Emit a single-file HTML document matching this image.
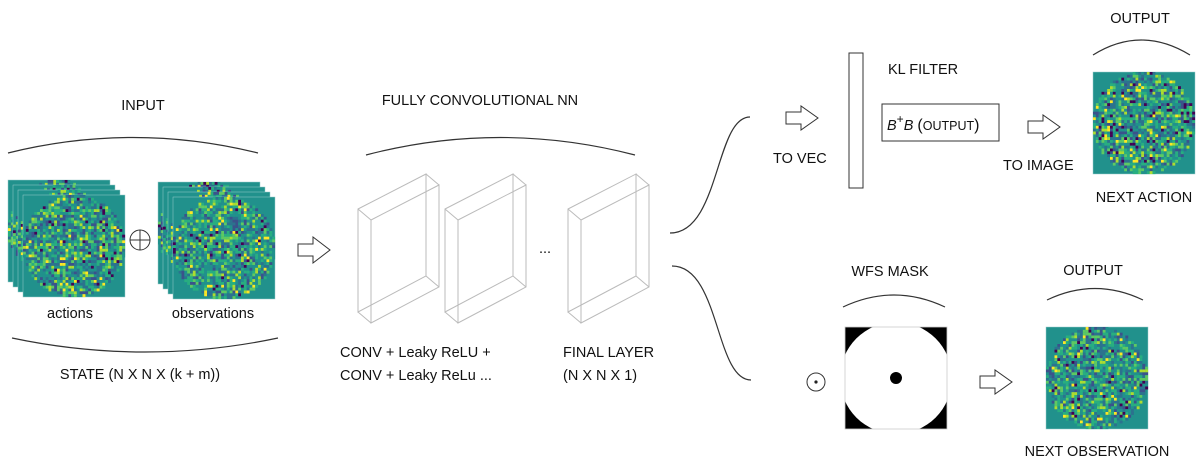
<!DOCTYPE html>
<html><head><meta charset="utf-8"><style>
html,body{margin:0;padding:0;background:#fff;}
svg{display:block;}
text{font-family:"Liberation Sans",sans-serif;font-size:14.5px;fill:#111;}
</style></head><body>
<svg id="s" width="1200" height="467" viewBox="0 0 1200 467" xmlns="http://www.w3.org/2000/svg">
<g fill="none" stroke="#333" stroke-width="1.2">
<path d="M8,153 Q133,122 258,153"/>
<path d="M12,338 Q145,366 278,338"/>
<path d="M366,155 Q500,120 635,155"/>
<path d="M1093,55 Q1141,25 1190,55"/>
<path d="M843,307 Q894,283 945,307"/>
<path d="M1047,300 Q1095,277 1143,300"/>
<path d="M670,233 C720,233 715,117 750,117"/>
<path d="M672,266 C720,266 715,380 751,380"/>
</g>
<g fill="#fff" stroke="#333" stroke-width="1">
<path d="M298,244 H313 V237 L330,250 L313,263 V256 H298 Z"/>
<path d="M786,112 H801 V106 L818,118 L801,130 V124 H786 Z"/>
<path d="M1028,121 H1043 V115 L1060,127 L1043,139 V133 H1028 Z"/>
<path d="M980,376 H995 V370 L1012,382 L995,394 V388 H980 Z"/>
<rect x="849" y="53" width="14" height="135"/>
<rect x="882" y="104" width="117" height="37"/>
<circle cx="140" cy="240" r="10"/>
<circle cx="816" cy="382" r="9"/>
</g>
<g stroke="#333"><line x1="130" y1="240" x2="150" y2="240"/><line x1="140" y1="230" x2="140" y2="250"/></g>
<circle cx="816" cy="382" r="1.6" fill="#222"/>
<g id="boxes" fill="none" stroke="#bbb" stroke-width="1"></g>
<g id="imgs"></g>
<text x="143" y="110" text-anchor="middle">INPUT</text>
<text x="70" y="318" text-anchor="middle" font-size="16">actions</text>
<text x="213" y="318" text-anchor="middle" font-size="16">observations</text>
<text x="140" y="379" text-anchor="middle">STATE (N X N X (k + m))</text>
<text x="480" y="105" text-anchor="middle">FULLY CONVOLUTIONAL NN</text>
<text x="545" y="253" text-anchor="middle" font-size="10">...</text>
<text x="340" y="357">CONV + Leaky ReLU +</text>
<text x="340" y="380">CONV + Leaky ReLu ...</text>
<text x="563" y="357">FINAL LAYER</text>
<text x="563" y="380">(N X N X 1)</text>
<text x="773" y="163">TO VEC</text>
<text x="888" y="74">KL FILTER</text>
<text x="887" y="130" font-family="Liberation Serif" font-style="italic" font-size="19">B<tspan dy="-7" font-size="12" font-style="normal">+</tspan><tspan dy="7">B</tspan> <tspan font-style="normal" font-family="Liberation Sans" font-size="16">(</tspan><tspan font-style="normal" font-family="Liberation Sans" font-size="12.5">OUTPUT</tspan><tspan font-style="normal" font-family="Liberation Sans" font-size="16">)</tspan></text>
<text x="1003" y="170">TO IMAGE</text>
<text x="1140" y="23" text-anchor="middle">OUTPUT</text>
<text x="1144" y="202" text-anchor="middle">NEXT ACTION</text>
<text x="890" y="276" text-anchor="middle">WFS MASK</text>
<text x="1093" y="275" text-anchor="middle">OUTPUT</text>
<text x="1097" y="456" text-anchor="middle">NEXT OBSERVATION</text>
<g id="mask"></g>
</svg>
<script>
var NS="http://www.w3.org/2000/svg";
var seed=12345;function rnd(){seed=(seed*1103515245+12345)%2147483648;return seed/2147483648;}
function el(p,t,a){var e=document.createElementNS(NS,t);for(var k in a)e.setAttribute(k,a[k]);p.appendChild(e);return e;}
var bx=document.getElementById('boxes');
[0,87,210].forEach(function(d){
 var A=[[358+d,209],[426+d,174],[426+d,276],[358+d,312]],o=[13,11];
 var B=A.map(function(p){return [p[0]+o[0],p[1]+o[1]];});
 el(bx,'polygon',{points:A.map(String).join(' ')});
 el(bx,'polygon',{points:B.map(String).join(' ')});
 for(var i=0;i<4;i++)el(bx,'line',{x1:A[i][0],y1:A[i][1],x2:B[i][0],y2:B[i][1]});
});
var pal=['#440154','#3b528b','#2c728e','#21918c','#28ae80','#5ec962','#addc30','#fde725'];
var w=[0.04,0.1,0.18,0.26,0.2,0.12,0.07,0.03];
function pick(){var r=rnd(),c=0;for(var i=0;i<8;i++){c+=w[i];if(r<c)return pal[i];}return pal[7];}
var ig=document.getElementById('imgs');
function img(x,y,s){
 el(ig,'rect',{x:x,y:y,width:s,height:s,fill:'#21918c',stroke:'#9cc',"stroke-width":0.5});
 var n=36,c=s/n;
 for(var i=0;i<n;i++)for(var j=0;j<n;j++){
  var dx=i+0.5-n/2,dy=j+0.5-n/2;
  if(dx*dx+dy*dy>(n/2)*(n/2))continue;
  el(ig,'rect',{x:(x+i*c).toFixed(2),y:(y+j*c).toFixed(2),width:(c+0.1).toFixed(2),height:(c+0.1).toFixed(2),fill:pick()});
 }
}
for(var k=0;k<4;k++){img(8+k*5,180+k*5,102);}
for(var k=0;k<4;k++){img(158+k*5,182+k*5,102);}
img(1093,72,102);
img(1046,327,102);
var m=document.getElementById('mask');
el(m,'rect',{x:845,y:327,width:102,height:102,fill:'#000'});
el(m,'circle',{cx:896,cy:378,r:56,fill:'#fff'});
el(m,'rect',{x:845,y:327,width:102,height:102,fill:'none',stroke:'#ccc',"stroke-width":0.8});
el(m,'circle',{cx:896,cy:378,r:6,fill:'#000'});
</script>
</body></html>
